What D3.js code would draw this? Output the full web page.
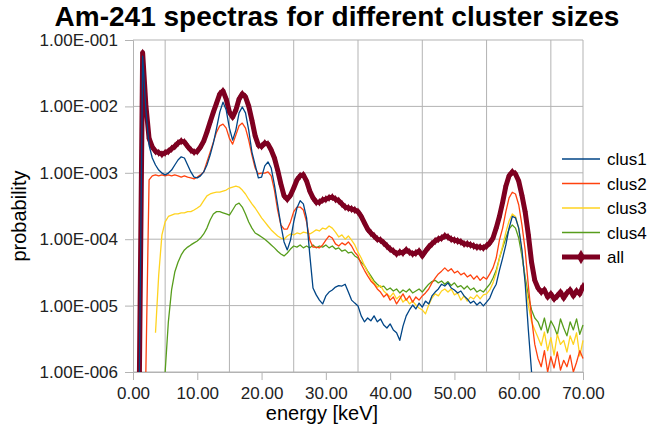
<!DOCTYPE html>
<html>
<head>
<meta charset="utf-8">
<script src="https://cdn.jsdelivr.net/npm/d3@7"></script>
<style>
body { margin: 0; background: #fff; }
svg { font-family: "Liberation Sans", Arial, sans-serif; }
</style>
</head>
<body>
<svg width="650" height="427"></svg>
<script>
// energies [keV], 0.5 keV channels
var energy = [0,0.5,1,1.5,2,2.5,3,3.5,4,4.5,5,5.5,6,6.5,7,7.5,8,8.5,9,9.5,
  10,10.5,11,11.5,12,12.5,13,13.5,14,14.5,15,15.5,16,16.5,17,17.5,18,18.5,19,19.5,
  20,20.5,21,21.5,22,22.5,23,23.5,24,24.5,25,25.5,26,26.5,27,27.5,28,28.5,29,29.5,
  30,30.5,31,31.5,32,32.5,33,33.5,34,34.5,35,35.5,36,36.5,37,37.5,38,38.5,39,39.5,
  40,40.5,41,41.5,42,42.5,43,43.5,44,44.5,45,45.5,46,46.5,47,47.5,48,48.5,49,49.5,
  50,50.5,51,51.5,52,52.5,53,53.5,54,54.5,55,55.5,56,56.5,57,57.5,58,58.5,59,59.5,
  60,60.5,61,61.5,62,62.5,63,63.5,64,64.5,65,65.5,66,66.5,67,67.5,68,68.5,69,69.5,70];

var clus1 = [null,null,1.0e-6,5.7e-2,8.8e-3,2.6e-3,1.67e-3,1.31e-3,1.1e-3,9.9e-4,
  9.3e-4,9.9e-4,1.1e-3,1.31e-3,1.56e-3,1.74e-3,1.67e-3,1.31e-3,1.03e-3,8.6e-4,
  8.4e-4,9.0e-4,1.03e-3,1.31e-3,1.85e-3,2.8e-3,4.7e-3,8.2e-3,1.16e-2,8.8e-3,
  4.7e-3,3.1e-3,4.4e-3,8.0e-3,9.8e-3,8.0e-3,4.4e-3,2.05e-3,1.31e-3,8.4e-4,
  8.6e-4,1.27e-3,1.46e-3,1.18e-3,6.6e-4,3.3e-4,1.64e-4,9.1e-5,6.9e-5,9.7e-5,
  1.82e-4,2.95e-4,3.8e-4,3.4e-4,2.1e-4,5.8e-5,1.84e-5,1.45e-5,1.21e-5,1.06e-5,
  1.4e-5,1.6e-5,1.72e-5,1.9e-5,2.0e-5,1.97e-5,2.1e-5,1.6e-5,1.21e-5,1.09e-5,
  9.9e-6,7.0e-6,5.7e-6,6.5e-6,5.9e-6,7.0e-6,5.7e-6,6.3e-6,5.1e-6,4.6e-6,
  5.3e-6,4.3e-6,3.9e-6,3.0e-6,4.9e-6,7.0e-6,8.6e-6,1.02e-5,8.9e-6,1.09e-5,
  9.5e-6,1.17e-5,1.06e-5,1.4e-5,1.6e-5,1.78e-5,2.1e-5,1.97e-5,2.2e-5,1.84e-5,
  1.72e-5,1.55e-5,1.66e-5,1.4e-5,1.26e-5,1.09e-5,1.17e-5,1.02e-5,1.13e-5,9.9e-6,
  1.13e-5,1.3e-5,1.72e-5,2.1e-5,3.4e-5,5.2e-5,8.2e-5,1.47e-4,2.2e-4,2.1e-4,
  1.47e-4,6.9e-5,2.2e-5,4.3e-6,1.0e-6,null,null,null,null,null,
  null,null,null,null,null,null,null,null,null,null,null];

var clus2 = [null,null,null,null,1.0e-6,7.8e-4,9.0e-4,9.3e-4,9.0e-4,9.3e-4,
  9.0e-4,9.3e-4,9.0e-4,9.3e-4,9.0e-4,8.6e-4,9.0e-4,8.6e-4,8.4e-4,8.1e-4,
  8.6e-4,9.3e-4,1.03e-3,1.46e-3,2.05e-3,2.9e-3,4.1e-3,5.1e-3,5.4e-3,4.7e-3,
  3.3e-3,2.7e-3,3.7e-3,5.1e-3,5.6e-3,4.7e-3,3.1e-3,1.85e-3,1.18e-3,9.6e-4,
  9.9e-4,9.9e-4,1.03e-3,9.0e-4,5.5e-4,2.75e-4,1.64e-4,1.42e-4,1.42e-4,1.82e-4,
  2.6e-4,3.05e-4,3.05e-4,2.75e-4,1.82e-4,9.7e-5,7.6e-5,7.6e-5,7.4e-5,8.2e-5,
  9.7e-5,1.12e-4,1.04e-4,8.5e-5,7.9e-5,8.8e-5,8.2e-5,9.1e-5,7.9e-5,6.4e-5,
  5.6e-5,4.2e-5,3.4e-5,2.8e-5,2.35e-5,2.1e-5,1.78e-5,1.6e-5,1.35e-5,1.5e-5,
  1.21e-5,1.35e-5,1.06e-5,1.26e-5,1.5e-5,1.21e-5,1.4e-5,1.13e-5,1.35e-5,1.21e-5,
  1.4e-5,1.55e-5,1.78e-5,2.2e-5,2.6e-5,3.0e-5,3.3e-5,3.7e-5,3.3e-5,3.6e-5,
  3.1e-5,3.3e-5,2.9e-5,3.1e-5,2.7e-5,2.9e-5,2.5e-5,2.8e-5,2.4e-5,2.7e-5,
  2.5e-5,3.0e-5,3.7e-5,5.2e-5,9.7e-5,1.47e-4,2.6e-4,4.2e-4,5.1e-4,4.8e-4,
  3.3e-4,1.64e-4,6.9e-5,2.0e-5,6.5e-6,2.6e-6,1.6e-6,1.2e-6,2.1e-6,1.0e-6,
  1.7e-6,1.15e-6,2.0e-6,1.07e-6,1.5e-6,1.2e-6,1.8e-6,1.0e-6,1.4e-6,2.1e-6,1.6e-6];

var clus3 = [null,null,null,null,null,null,null,3.9e-6,2.9e-5,1.16e-4,
  1.82e-4,2.2e-4,2.3e-4,2.4e-4,2.4e-4,2.5e-4,2.5e-4,2.6e-4,2.6e-4,2.75e-4,
  2.95e-4,3.2e-4,3.8e-4,4.5e-4,4.8e-4,5.0e-4,5.1e-4,5.1e-4,5.3e-4,5.5e-4,
  5.9e-4,6.1e-4,6.3e-4,6.1e-4,5.5e-4,4.8e-4,4.0e-4,3.4e-4,2.95e-4,2.5e-4,
  2.1e-4,1.82e-4,1.58e-4,1.38e-4,1.24e-4,1.12e-4,1.04e-4,1.0e-4,1.12e-4,1.2e-4,
  1.16e-4,1.24e-4,1.2e-4,1.28e-4,1.24e-4,1.2e-4,1.28e-4,1.38e-4,1.33e-4,1.47e-4,
  1.42e-4,1.58e-4,1.47e-4,1.28e-4,1.08e-4,1.16e-4,1.0e-4,1.12e-4,9.7e-5,8.2e-5,
  6.4e-5,5.2e-5,4.0e-5,3.2e-5,2.6e-5,2.2e-5,1.9e-5,2.0e-5,1.66e-5,1.5e-5,
  1.35e-5,1.55e-5,1.26e-5,1.4e-5,1.13e-5,1.26e-5,1.06e-5,1.17e-5,1.02e-5,9.2e-6,
  8.6e-6,7.5e-6,1.02e-5,1.3e-5,1.5e-5,1.4e-5,1.66e-5,1.78e-5,1.6e-5,1.78e-5,
  1.45e-5,1.55e-5,1.21e-5,1.4e-5,1.17e-5,1.35e-5,1.26e-5,1.45e-5,1.26e-5,1.45e-5,
  1.5e-5,1.72e-5,2.2e-5,3.1e-5,5.2e-5,7.9e-5,1.28e-4,1.88e-4,2.4e-4,2.2e-4,
  1.47e-4,6.4e-5,2.4e-5,1.02e-5,5.7e-6,4.3e-6,3.3e-6,2.5e-6,4.0e-6,2.1e-6,
  3.3e-6,1.8e-6,3.7e-6,2.6e-6,3.0e-6,2.0e-6,3.5e-6,2.6e-6,3.9e-6,1.74e-6,3.0e-6];

var clus4 = [null,null,null,null,null,null,null,null,null,null,
  1.0e-6,5.7e-6,1.72e-5,3.2e-5,4.5e-5,5.8e-5,6.9e-5,7.6e-5,8.2e-5,8.8e-5,
  9.4e-5,1.04e-4,1.2e-4,1.47e-4,1.95e-4,2.4e-4,2.6e-4,2.6e-4,2.5e-4,2.4e-4,
  2.3e-4,2.75e-4,3.3e-4,3.5e-4,3.05e-4,2.4e-4,1.82e-4,1.47e-4,1.24e-4,1.16e-4,
  1.08e-4,1.0e-4,9.1e-5,8.2e-5,7.4e-5,6.6e-5,6.0e-5,5.6e-5,6.2e-5,7.1e-5,
  7.9e-5,7.6e-5,8.2e-5,7.4e-5,7.9e-5,7.4e-5,8.2e-5,7.4e-5,7.9e-5,7.6e-5,
  8.2e-5,7.4e-5,7.9e-5,7.1e-5,7.4e-5,6.6e-5,6.9e-5,6.2e-5,6.4e-5,5.6e-5,
  5.2e-5,4.5e-5,4.0e-5,3.3e-5,2.8e-5,2.35e-5,2.1e-5,1.9e-5,1.97e-5,1.72e-5,
  1.84e-5,1.66e-5,1.78e-5,1.55e-5,1.72e-5,1.6e-5,1.78e-5,1.55e-5,1.66e-5,1.78e-5,
  1.6e-5,1.84e-5,2.1e-5,2.3e-5,2.4e-5,2.2e-5,2.35e-5,2.1e-5,2.3e-5,2.0e-5,
  2.2e-5,1.9e-5,2.0e-5,1.78e-5,1.97e-5,1.72e-5,1.84e-5,1.6e-5,1.72e-5,1.6e-5,
  1.84e-5,2.1e-5,2.6e-5,3.4e-5,5.2e-5,7.4e-5,1.04e-4,1.42e-4,1.64e-4,1.47e-4,
  1.04e-4,5.6e-5,2.7e-5,1.4e-5,8.6e-6,6.5e-6,5.7e-6,4.3e-6,6.5e-6,3.9e-6,
  5.9e-6,4.8e-6,3.6e-6,6.3e-6,4.6e-6,3.5e-6,5.7e-6,4.3e-6,6.3e-6,3.7e-6,5.1e-6];

var all = [null,null,1.0e-6,6.4e-2,1.05e-2,3.3e-3,2.45e-3,2.1e-3,2.0e-3,1.9e-3,
  2.0e-3,2.1e-3,2.3e-3,2.5e-3,2.8e-3,3.0e-3,2.9e-3,2.5e-3,2.2e-3,2.05e-3,
  2.1e-3,2.45e-3,3.0e-3,4.1e-3,5.8e-3,8.2e-3,1.12e-2,1.54e-2,1.71e-2,1.29e-2,
  8.2e-3,6.9e-3,8.8e-3,1.29e-2,1.54e-2,1.39e-2,1.01e-2,6.2e-3,3.6e-3,2.6e-3,
  2.5e-3,2.8e-3,2.7e-3,2.2e-3,1.67e-3,1.1e-3,6.8e-4,4.5e-4,4.0e-4,4.6e-4,
  5.9e-4,7.8e-4,9.0e-4,9.3e-4,7.5e-4,5.3e-4,4.2e-4,3.6e-4,3.6e-4,3.9e-4,
  4.0e-4,4.2e-4,4.3e-4,4.0e-4,3.8e-4,3.4e-4,3.05e-4,2.95e-4,2.85e-4,2.75e-4,
  2.6e-4,2.2e-4,1.76e-4,1.42e-4,1.24e-4,1.12e-4,1.0e-4,9.7e-5,8.8e-5,7.9e-5,
  7.1e-5,6.6e-5,6.0e-5,6.4e-5,6.2e-5,6.9e-5,6.4e-5,6.0e-5,6.2e-5,6.6e-5,
  5.6e-5,6.6e-5,7.6e-5,8.5e-5,9.4e-5,1.0e-4,1.04e-4,1.12e-4,1.08e-4,1.0e-4,
  9.7e-5,9.4e-5,9.1e-5,8.5e-5,8.5e-5,8.2e-5,7.9e-5,7.6e-5,7.6e-5,7.4e-5,
  7.9e-5,8.8e-5,1.04e-4,1.47e-4,2.2e-4,3.6e-4,6.3e-4,9.0e-4,1.03e-3,9.6e-4,
  7.5e-4,4.6e-4,2.6e-4,1.16e-4,4.5e-5,2.4e-5,1.84e-5,1.6e-5,1.72e-5,1.35e-5,
  1.5e-5,1.26e-5,1.4e-5,1.6e-5,1.3e-5,1.55e-5,1.72e-5,1.4e-5,1.66e-5,1.5e-5,1.97e-5];

var seriesNames = ["clus1", "clus2", "clus3", "clus4", "all"];
var seriesColors = ["#004586", "#ff420e", "#ffd320", "#579d1c", "#7e0021"];
var seriesValues = [clus1, clus2, clus3, clus4, all];

var xTicks = [0, 10, 20, 30, 40, 50, 60, 70];
var xGrid = [5, 15, 25, 35, 45, 55, 65];
var yTicks = [1e-6, 1e-5, 1e-4, 1e-3, 1e-2, 1e-1];

var plotL = 133, plotR = 583, plotT = 40, plotB = 372;
var gridColor = "#b3b3b3";

var svg = d3.select("svg");

var x = d3.scaleLinear().domain([0, 70]).range([plotL, plotR]);
var y = d3.scaleLog().domain([1e-6, 1e-1]).range([plotB, plotT]);

// title
svg.append("text")
    .attr("x", 337).attr("y", 26)
    .attr("text-anchor", "middle")
    .style("font-size", "28px").style("font-weight", "bold")
    .text("Am-241 spectras for different cluster sizes");

// grid
svg.append("g").selectAll("line")
    .data(yTicks).enter().append("line")
    .attr("x1", plotL).attr("x2", plotR)
    .attr("y1", function(d){ return y(d); })
    .attr("y2", function(d){ return y(d); })
    .attr("stroke", gridColor);
svg.append("g").selectAll("line")
    .data(xGrid).enter().append("line")
    .attr("y1", plotT).attr("y2", plotB)
    .attr("x1", function(d){ return x(d); })
    .attr("x2", function(d){ return x(d); })
    .attr("stroke", gridColor);
svg.append("line")
    .attr("x1", plotR).attr("x2", plotR).attr("y1", plotT).attr("y2", plotB)
    .attr("stroke", gridColor);

// axes
var fmtY = function(d){
    return "1.00E-" + String(Math.round(-Math.log10(d))).padStart(3, "0");
};
var yAxis = svg.append("g")
    .attr("transform", "translate(" + plotL + ",0)")
    .call(d3.axisLeft(y).tickValues(yTicks).tickFormat(fmtY).tickSize(8).tickPadding(7));
var xAxis = svg.append("g")
    .attr("transform", "translate(0," + plotB + ")")
    .call(d3.axisBottom(x).tickValues(xTicks).tickFormat(d3.format(".2f")).tickSize(8).tickPadding(7));
[xAxis, yAxis].forEach(function(g){
    g.select(".domain").attr("stroke", gridColor);
    g.selectAll(".tick line").attr("stroke", gridColor);
    g.selectAll(".tick text")
        .attr("fill", "#222")
        .style("font-size", "17px")
        .style("font-family", "'Liberation Sans', Arial, sans-serif");
});

// axis titles
svg.append("text")
    .attr("x", 322).attr("y", 420)
    .attr("text-anchor", "middle")
    .style("font-size", "20px")
    .text("energy [keV]");
svg.append("text")
    .attr("transform", "translate(26,216) rotate(-90)")
    .attr("text-anchor", "middle")
    .style("font-size", "20px")
    .text("probability");

// plot clip
svg.append("clipPath").attr("id", "plotclip")
    .append("rect")
    .attr("x", plotL).attr("y", plotT - 2)
    .attr("width", plotR - plotL + 1).attr("height", plotB - plotT + 2);

var line = d3.line()
    .defined(function(d){ return d[1] != null; })
    .x(function(d){ return x(d[0]); })
    .y(function(d){ return y(Math.max(d[1], 1e-7)); });

var plot = svg.append("g").attr("clip-path", "url(#plotclip)");

// draw "all" first, clusters on top
var order = [4, 3, 2, 1, 0];
order.forEach(function(i){
    var pts = energy.map(function(e, k){ return [e, seriesValues[i][k]]; });
    var isAll = seriesNames[i] == "all";
    plot.append("path")
        .datum(pts)
        .attr("d", line)
        .attr("fill", "none")
        .attr("stroke", seriesColors[i])
        .attr("stroke-width", isAll ? 5 : 1.3)
        .attr("stroke-linejoin", "round");
    if (isAll) {
        plot.selectAll(".mk")
            .data(pts.filter(function(d){ return d[1] != null; }))
            .enter().append("path")
            .attr("class", "mk")
            .attr("transform", function(d){ return "translate(" + x(d[0]) + "," + y(d[1]) + ")"; })
            .attr("d", d3.symbol().type(d3.symbolDiamond).size(20))
            .attr("fill", seriesColors[i]);
    }
});

// legend
var legend = svg.append("g");
seriesNames.forEach(function(name, i){
    var ly = 159 + i * 24.5;
    var isAll = name == "all";
    legend.append("line")
        .attr("x1", 562).attr("x2", 600).attr("y1", ly).attr("y2", ly)
        .attr("stroke", seriesColors[i])
        .attr("stroke-width", isAll ? 5 : 1.5);
    if (isAll) {
        legend.append("path")
            .attr("transform", "translate(581," + ly + ")")
            .attr("d", d3.symbol().type(d3.symbolDiamond).size(60))
            .attr("fill", seriesColors[i]);
    }
    legend.append("text")
        .attr("x", 607).attr("y", ly + 6)
        .style("font-size", "17px")
        .text(name);
});
</script>
</body>
</html>
